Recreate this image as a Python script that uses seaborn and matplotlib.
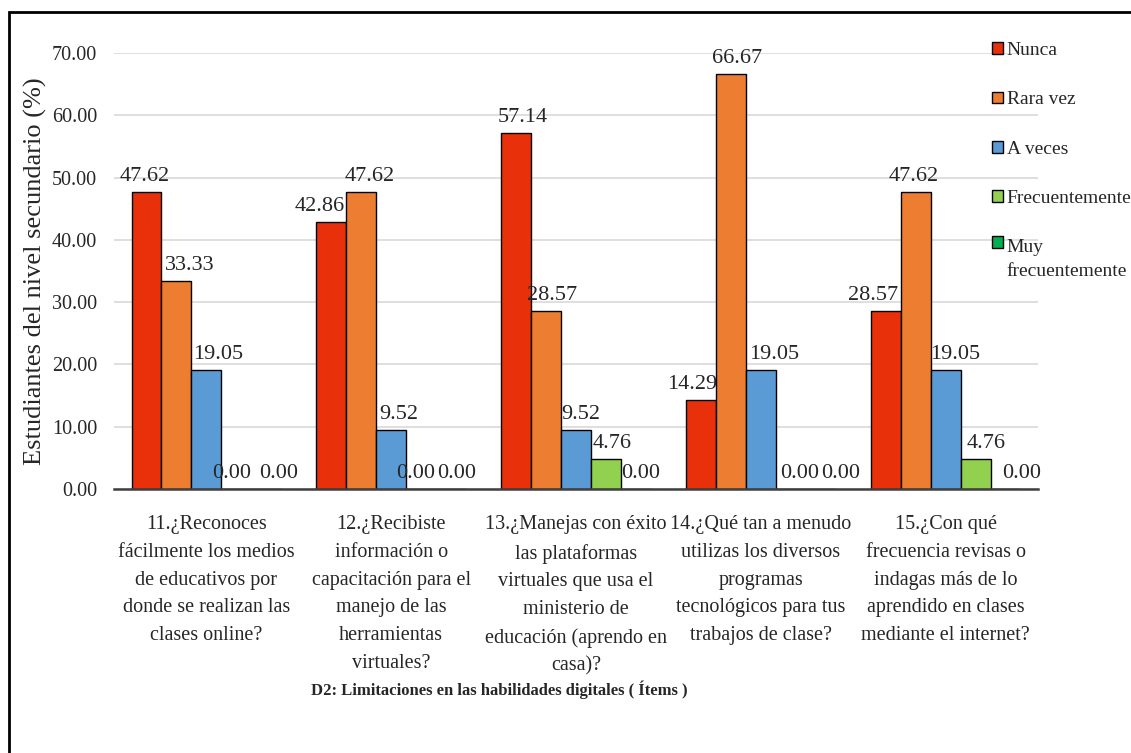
import numpy as np
import pandas as pd
import matplotlib
matplotlib.use('Agg')
import matplotlib.pyplot as plt
from matplotlib.patches import Rectangle
import seaborn as sns

# Items (x categories), wrapped as in the original chart
items = [
    '11.¿Reconoces\nfácilmente los medios\nde educativos por\ndonde se realizan las\nclases online?',
    '12.¿Recibiste\ninformación o\ncapacitación para el\nmanejo de las\nherramientas\nvirtuales?',
    '13.¿Manejas con éxito\nlas plataformas\nvirtuales que usa el\nministerio de\neducación (aprendo en\ncasa)?',
    '14.¿Qué tan a menudo\nutilizas los diversos\nprogramas\ntecnológicos para tus\ntrabajos de clase?',
    '15.¿Con qué\nfrecuencia revisas o\nindagas más de lo\naprendido en clases\nmediante el internet?',
]
responses = ['Nunca', 'Rara vez', 'A veces', 'Frecuentemente', 'Muy\nfrecuentemente']

nunca = [47.62, 42.86, 57.14, 14.29, 28.57]
rara_vez = [33.33, 47.62, 28.57, 66.67, 47.62]
a_veces = [19.05, 9.52, 9.52, 19.05, 19.05]
frecuentemente = [0.00, 0.00, 4.76, 0.00, 4.76]
muy_frecuentemente = [0.00, 0.00, 0.00, 0.00, 0.00]

colors = ['#E8300A', '#ED7D31', '#5B9BD5', '#92D050', '#00B050']

series = [nunca, rara_vez, a_veces, frecuentemente, muy_frecuentemente]
df = pd.DataFrame({
    'item': np.tile(items, len(responses)),
    'resp': np.repeat(responses, len(items)),
    'pct': np.concatenate(series),
})

# label nudges in pixels (to avoid overlap like the original), [hue][item]
label_dx = [
    [-2, -12, 7, -9, -13],
    [13, 8, 6, 6, -2],
    [12, 8, 5, 13, 10],
    [-5, -6, 6, 9, 11],
    [12, 6, 5, 20, 16],
]

sns.set_style('white')
plt.rcParams['font.family'] = ['Liberation Serif', 'DejaVu Serif']

fig = plt.figure(figsize=(11.31, 7.53), dpi=100)
ax = fig.add_axes([114 / 1131, 1 - 489 / 753, 924 / 1131, 436 / 753])

sns.barplot(data=df, x='item', y='pct', hue='resp', palette=colors,
            hue_order=responses, order=items, width=0.81, gap=0,
            edgecolor='black', linewidth=1, saturation=1, ax=ax)

ax.set_ylim(0, 70)
ax.set_xlim(-0.5, len(items) - 0.5)
ax.set_yticks(np.arange(0, 71, 10))
ax.set_yticklabels([f'{v:.2f}' for v in np.arange(0, 71, 10)], fontsize=14.5)
ax.set_xticks(range(len(items)))
ax.set_xticklabels(items, fontsize=14.5, linespacing=1.62)
ax.yaxis.grid(True, color='#D9D9D9', linewidth=1.2)
ax.set_axisbelow(True)
for s in ['left', 'right', 'top']:
    ax.spines[s].set_visible(False)
ax.spines['bottom'].set_color('#404040')
ax.spines['bottom'].set_linewidth(1.8)
ax.tick_params(axis='both', length=0)
ax.tick_params(axis='y', pad=12)
ax.tick_params(axis='x', pad=19)

ax.set_xlabel('')
ax.set_ylabel('Estudiantes del nivel secundario (%)', fontsize=19)
ax.yaxis.set_label_coords(-0.072, 0.5)

# value labels
for i, cont in enumerate(ax.containers):
    for j, bar in enumerate(cont):
        h = bar.get_height()
        ax.annotate(f'{h:.2f}', (bar.get_x() + bar.get_width() / 2, h),
                    xytext=(label_dx[i][j], 6), textcoords='offset pixels',
                    ha='center', va='bottom', fontsize=16)

handles, labels = ax.get_legend_handles_labels()
ax.get_legend().remove()
leg = fig.legend(handles, labels, loc='upper left', bbox_to_anchor=(992 / 1131, 1 - 42 / 753),
                 frameon=False, handlelength=0.55, handleheight=0.55, handletextpad=0.2,
                 labelspacing=1.66, fontsize=14, borderaxespad=0, borderpad=0)
leg.get_texts()[-1].set_linespacing(1.52)
# put the last marker next to the first line ("Muy") as in the original
last = leg.legend_handles[-1]
last.set_y(last.get_y() + 12.5)

fig.text(499 / 1131, 1 - 690 / 753, 'D2: Limitaciones en las habilidades digitales ( Ítems )',
         ha='center', va='center', fontsize=12, fontweight='bold')

# outer frame (only top and left edges visible in the crop)
fig.add_artist(Rectangle((9 / 1131, -0.05), 1.1, 1.05 - 12 / 753, transform=fig.transFigure,
                         fill=False, edgecolor='black', linewidth=2))

fig.savefig('out.png', dpi=100)
